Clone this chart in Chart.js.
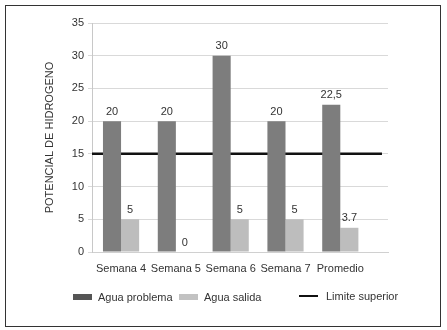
<!DOCTYPE html>
<html lang="es">
<head>
  <meta charset="UTF-8">
  <title>Potencial de hidrogeno</title>
  <script src="https://cdn.jsdelivr.net/npm/chart.js"></script>
  <style>
    body { margin: 0; background: #fff; font-family: "Liberation Sans", Arial, sans-serif; }
    #marco { position: absolute; left: 5px; top: 5px; width: 434px; height: 320px; border: 1.5px solid #333; }
    #contenedor { position: absolute; left: 0; top: 0; width: 447px; height: 330px; }
    .leyenda { position: absolute; top: 291px; font-size: 11px; color: #333; display: flex; align-items: center; }
    .caja { display: inline-block; width: 19px; height: 6px; margin-right: 6px; }
    .linea { display: inline-block; width: 19px; height: 2px; background: #111; margin-right: 8px; }
  </style>
</head>
<body>
  <div id="marco"></div>
  <div id="contenedor"><canvas id="phChart"></canvas></div>
  <div class="leyenda" style="left:73px"><span class="caja" style="background:#555"></span>Agua problema</div>
  <div class="leyenda" style="left:179px"><span class="caja" style="background:#c2c2c2"></span>Agua salida</div>
  <div class="leyenda" style="left:299px; top:290px"><span class="linea"></span>Limite superior</div>

  <script>
    const semanas = ['Semana 4', 'Semana 5', 'Semana 6', 'Semana 7', 'Promedio'];
    const aguaProblema = [20, 20, 30, 20, 22.5];
    const aguaSalida = [5, 0, 5, 5, 3.7];
    const limiteSuperior = 15;
    const limiteX = [-0.53, 4.76];
    const ticksY = [0, 5, 10, 15, 20, 25, 30, 35];

    // etiquetas encima de cada barra
    const etiquetas = {
      id: 'etiquetas',
      afterDatasetsDraw(chart) {
        const ctx = chart.ctx;
        ctx.save();
        ctx.font = '11px "Liberation Sans", Arial, sans-serif';
        ctx.fillStyle = '#333';
        ctx.textAlign = 'center';
        ctx.textBaseline = 'bottom';
        [0, 1].forEach(d => {
          chart.getDatasetMeta(d).data.forEach((bar, i) => {
            const v = chart.data.datasets[d].data[i].y;
            ctx.fillText(String(v).replace('22.5', '22,5'), bar.x, bar.y - 4);
          });
        });
        ctx.restore();
      }
    };

    const ctx = document.getElementById('phChart').getContext('2d');
    new Chart(ctx, {
      type: 'bar',
      data: {
        datasets: [
          {
            label: 'Agua problema',
            data: aguaProblema.map((v, i) => ({ x: i, y: v })),
            backgroundColor: '#7d7d7d',
            categoryPercentage: 0.66,
            barPercentage: 1
          },
          {
            label: 'Agua salida',
            data: aguaSalida.map((v, i) => ({ x: i, y: v })),
            backgroundColor: '#bdbdbd',
            categoryPercentage: 0.66,
            barPercentage: 1
          },
          {
            type: 'line',
            label: 'Limite superior',
            data: limiteX.map(x => ({ x: x, y: limiteSuperior })),
            borderColor: '#111',
            borderWidth: 2.5,
            pointRadius: 0
          }
        ]
      },
      options: {
        responsive: true,
        maintainAspectRatio: false,
        animation: false,
        layout: { padding: { left: 43, right: 59, top: 23, bottom: 48 } },
        plugins: {
          legend: { display: false },
          tooltip: { enabled: false }
        },
        scales: {
          x: {
            type: 'linear',
            offset: false,
            min: -0.53,
            max: 4.87,
            afterBuildTicks: s => { s.ticks = semanas.map((_, i) => ({ value: i })); },
            afterFit: s => { s.height = 30; },
            grid: { display: false, drawTicks: false },
            border: { color: '#d0d0d0' },
            ticks: {
              padding: 10,
              color: '#333',
              font: { family: '"Liberation Sans", Arial, sans-serif', size: 11 },
              callback: v => semanas[v]
            }
          },
          y: {
            min: 0,
            max: 35,
            afterBuildTicks: s => { s.ticks = ticksY.map(v => ({ value: v })); },
            afterFit: s => { s.width = 49; },
            grid: { color: '#d9d9d9', tickLength: 4 },
            border: { color: '#c8c8c8' },
            ticks: {
              padding: 4,
              color: '#333',
              font: { family: '"Liberation Sans", Arial, sans-serif', size: 11 }
            },
            title: {
              display: true,
              text: 'POTENCIAL DE HIDROGENO',
              color: '#333',
              padding: 0,
              font: { family: '"Liberation Sans", Arial, sans-serif', size: 11 }
            }
          }
        }
      },
      plugins: [etiquetas]
    });
  </script>
</body>
</html>
